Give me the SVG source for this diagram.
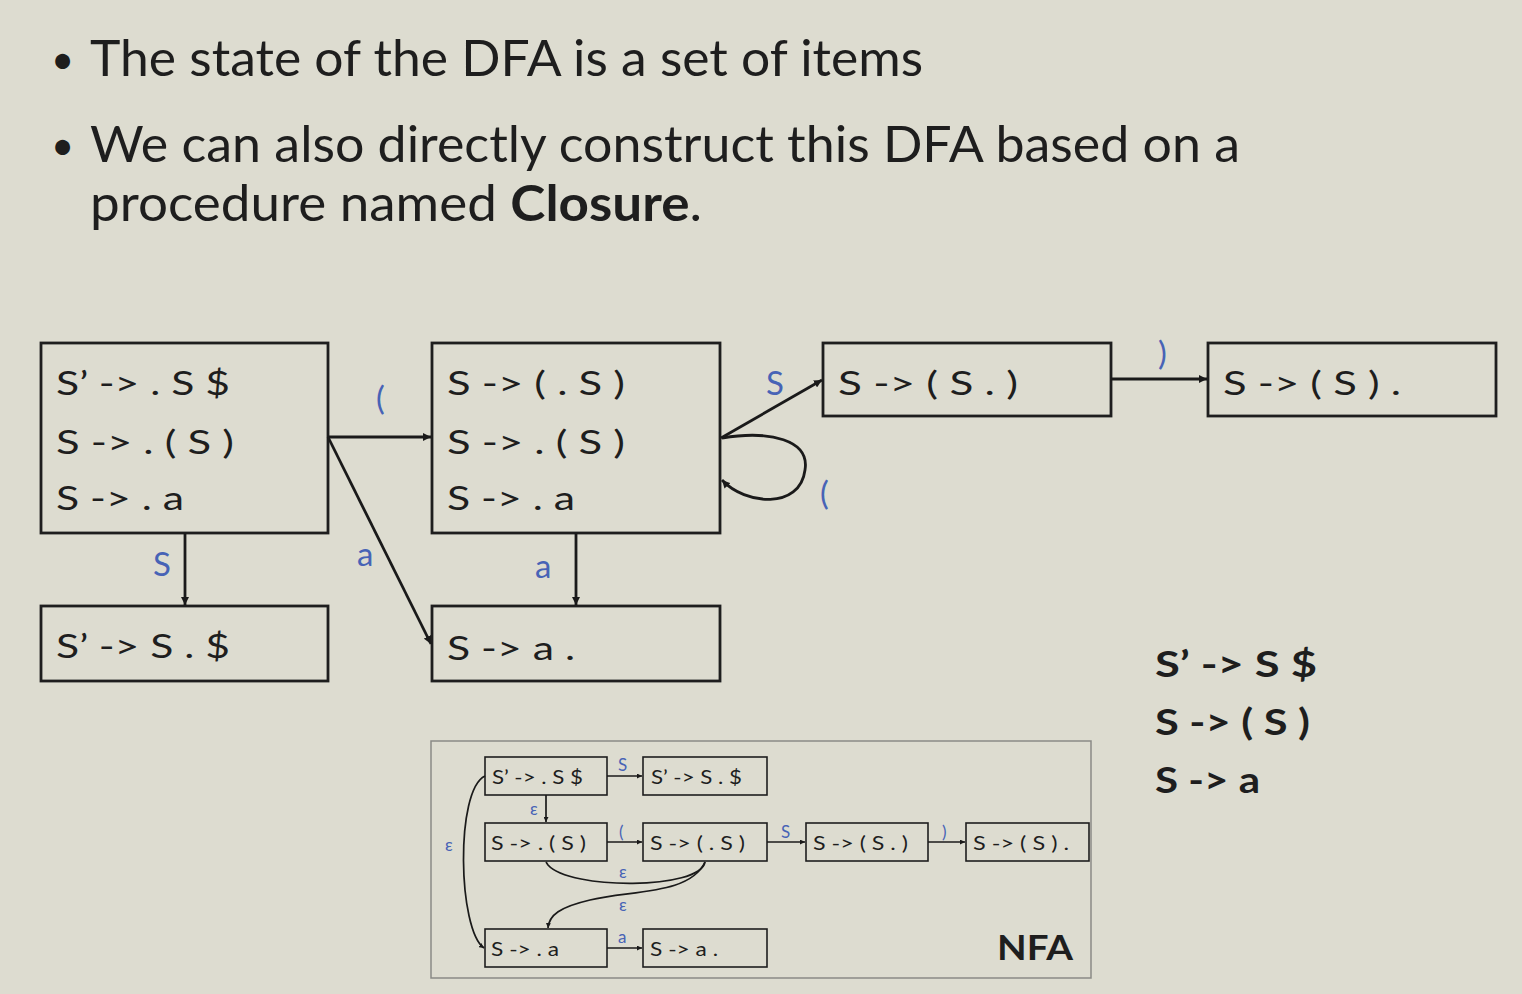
<svg xmlns="http://www.w3.org/2000/svg" width="1522" height="994" viewBox="0 0 1522 994">
<defs>
<marker id="ah" viewBox="0 0 10 10" refX="10" refY="5" markerWidth="8" markerHeight="8" markerUnits="userSpaceOnUse" orient="auto">
<path d="M0,0 L10,5 L0,10 z" fill="#1a1a1a"/>
</marker>
<marker id="ahs" viewBox="0 0 10 10" refX="10" refY="5" markerWidth="5" markerHeight="5" markerUnits="userSpaceOnUse" orient="auto">
<path d="M0,0 L10,5 L0,10 z" fill="#1a1a1a"/>
</marker>
<style>
text{font-family:Lato,"Open Sans","Liberation Sans",sans-serif;fill:#1e1e1e}
.b{font-size:50px}
.dot{font-size:40px}
.n{font-size:33px}
.s{font-size:19px}
.lbl{font-size:33px;fill:#4763b6}
.lbls{font-size:17px;fill:#4763b6}
.g{font-size:36px;font-weight:bold}
.box{fill:none;stroke:#1e1e1e;stroke-width:2.8}
.sbox{fill:none;stroke:#1e1e1e;stroke-width:1.6}
.e{fill:none;stroke:#1a1a1a;stroke-width:2.8}
.es{fill:none;stroke:#1a1a1a;stroke-width:1.7}
</style>
</defs>
<rect x="0" y="0" width="1522" height="994" fill="#dddcd0"/>

<g id="bullets">
<text class="dot" x="51" y="74">•</text>
<text class="b" x="90" y="76" textLength="833" lengthAdjust="spacingAndGlyphs">The state of the DFA is a set of items</text>
<text class="dot" x="51" y="160">•</text>
<text class="b" x="90" y="162" textLength="1150" lengthAdjust="spacingAndGlyphs">We can also directly construct this DFA based on a</text>
<text class="b" x="90" y="221" textLength="612" lengthAdjust="spacingAndGlyphs">procedure named <tspan font-weight="bold">Closure</tspan>.</text>
</g>

<g id="dfaA">
<rect class="box" x="41" y="343" width="287" height="190"/>
<text class="n" x="56" y="395" textLength="174" lengthAdjust="spacingAndGlyphs">S’ -&gt; . S $</text>
<text class="n" x="56" y="454" textLength="178" lengthAdjust="spacingAndGlyphs">S -&gt; . ( S )</text>
<text class="n" x="56" y="510" textLength="128" lengthAdjust="spacingAndGlyphs">S -&gt; . a</text>
</g>
<g id="dfaB">
<rect class="box" x="432" y="343" width="288" height="190"/>
<text class="n" x="447" y="395" textLength="178" lengthAdjust="spacingAndGlyphs">S -&gt; ( . S )</text>
<text class="n" x="447" y="454" textLength="178" lengthAdjust="spacingAndGlyphs">S -&gt; . ( S )</text>
<text class="n" x="447" y="510" textLength="128" lengthAdjust="spacingAndGlyphs">S -&gt; . a</text>
</g>
<g id="dfaC">
<rect class="box" x="41" y="606" width="287" height="75"/>
<text class="n" x="56" y="658" textLength="174" lengthAdjust="spacingAndGlyphs">S’ -&gt; S . $</text>
</g>
<g id="dfaD">
<rect class="box" x="432" y="606" width="288" height="75"/>
<text class="n" x="447" y="660" textLength="128" lengthAdjust="spacingAndGlyphs">S -&gt; a .</text>
</g>
<g id="dfaE">
<rect class="box" x="823" y="343" width="288" height="73"/>
<text class="n" x="838" y="395" textLength="180" lengthAdjust="spacingAndGlyphs">S -&gt; ( S . )</text>
</g>
<g id="dfaF">
<rect class="box" x="1208" y="343" width="288" height="73"/>
<text class="n" x="1223" y="395" textLength="178" lengthAdjust="spacingAndGlyphs">S -&gt; ( S ) .</text>
</g>

<g id="dfa-edges">
<line class="e" x1="328" y1="437" x2="431" y2="437" marker-end="url(#ah)"/>
<line class="e" x1="328" y1="437" x2="431" y2="644" marker-end="url(#ah)"/>
<line class="e" x1="185" y1="533" x2="185" y2="605" marker-end="url(#ah)"/>
<line class="e" x1="576" y1="533" x2="576" y2="605" marker-end="url(#ah)"/>
<line class="e" x1="721" y1="438" x2="822" y2="380" marker-end="url(#ah)"/>
<path class="e" d="M722,438 C770,430 810,440 805,470 C800,510 745,505 722,480" marker-end="url(#ah)"/>
<line class="e" x1="1111" y1="379" x2="1207" y2="379" marker-end="url(#ah)"/>
<text class="lbl" x="376" y="410">(</text>
<text class="lbl" x="357" y="566">a</text>
<text class="lbl" x="153" y="576">S</text>
<text class="lbl" x="535" y="578">a</text>
<text class="lbl" x="766" y="395">S</text>
<text class="lbl" x="820" y="505">(</text>
<text class="lbl" x="1158" y="365">)</text>
</g>

<g id="grammar">
<text class="g" x="1155" y="677" textLength="162" lengthAdjust="spacingAndGlyphs">S’ -&gt;  S $</text>
<text class="g" x="1155" y="735" textLength="155" lengthAdjust="spacingAndGlyphs">S -&gt; ( S )</text>
<text class="g" x="1155" y="793" textLength="105" lengthAdjust="spacingAndGlyphs">S -&gt; a</text>
</g>

<g id="nfa">
<rect x="431" y="741" width="660" height="237" fill="none" stroke="#8a8a86" stroke-width="1.5"/>
<text x="997" y="960" font-size="34" font-weight="bold" textLength="76" lengthAdjust="spacingAndGlyphs">NFA</text>
</g>
<g id="n1"><rect class="sbox" x="485" y="757" width="122" height="38"/><text class="s" x="492" y="784" textLength="91" lengthAdjust="spacingAndGlyphs">S’ -&gt; . S $</text></g>
<g id="n2"><rect class="sbox" x="643" y="757" width="124" height="38"/><text class="s" x="651" y="784" textLength="91" lengthAdjust="spacingAndGlyphs">S’ -&gt; S . $</text></g>
<g id="n3"><rect class="sbox" x="485" y="823" width="122" height="38"/><text class="s" x="491" y="850" textLength="95" lengthAdjust="spacingAndGlyphs">S -&gt; . ( S )</text></g>
<g id="n4"><rect class="sbox" x="643" y="823" width="124" height="38"/><text class="s" x="650" y="850" textLength="95" lengthAdjust="spacingAndGlyphs">S -&gt; ( . S )</text></g>
<g id="n5"><rect class="sbox" x="806" y="823" width="122" height="38"/><text class="s" x="813" y="850" textLength="95" lengthAdjust="spacingAndGlyphs">S -&gt; ( S . )</text></g>
<g id="n6"><rect class="sbox" x="966" y="823" width="123" height="38"/><text class="s" x="973" y="850" textLength="96" lengthAdjust="spacingAndGlyphs">S -&gt; ( S ) .</text></g>
<g id="n7"><rect class="sbox" x="485" y="929" width="122" height="38"/><text class="s" x="491" y="956" textLength="68" lengthAdjust="spacingAndGlyphs">S -&gt; . a</text></g>
<g id="n8"><rect class="sbox" x="643" y="929" width="124" height="38"/><text class="s" x="650" y="956" textLength="68" lengthAdjust="spacingAndGlyphs">S -&gt; a .</text></g>

<g id="nfa-edges">
<line class="es" x1="607" y1="776" x2="642" y2="776" marker-end="url(#ahs)"/>
<line class="es" x1="546" y1="795" x2="546" y2="822" marker-end="url(#ahs)"/>
<line class="es" x1="607" y1="842" x2="642" y2="842" marker-end="url(#ahs)"/>
<line class="es" x1="767" y1="842" x2="805" y2="842" marker-end="url(#ahs)"/>
<line class="es" x1="928" y1="842" x2="965" y2="842" marker-end="url(#ahs)"/>
<line class="es" x1="607" y1="948" x2="642" y2="948" marker-end="url(#ahs)"/>
<path class="es" d="M485,776 C455,790 458,930 484,948" marker-end="url(#ahs)"/>
<path class="es" d="M705,862 C700,890 570,890 548,865 L546,862"/>
<path class="es" d="M705,862 C690,895 630,890 590,900 C560,907 549,915 548,928" marker-end="url(#ahs)"/>
<text class="lbls" x="618" y="771">S</text>
<text class="lbls" x="530" y="815">ε</text>
<text class="lbls" x="619" y="838">(</text>
<text class="lbls" x="781" y="838">S</text>
<text class="lbls" x="942" y="838">)</text>
<text class="lbls" x="618" y="943">a</text>
<text class="lbls" x="445" y="851">ε</text>
<text class="lbls" x="619" y="878">ε</text>
<text class="lbls" x="619" y="911">ε</text>
</g>
</svg>
